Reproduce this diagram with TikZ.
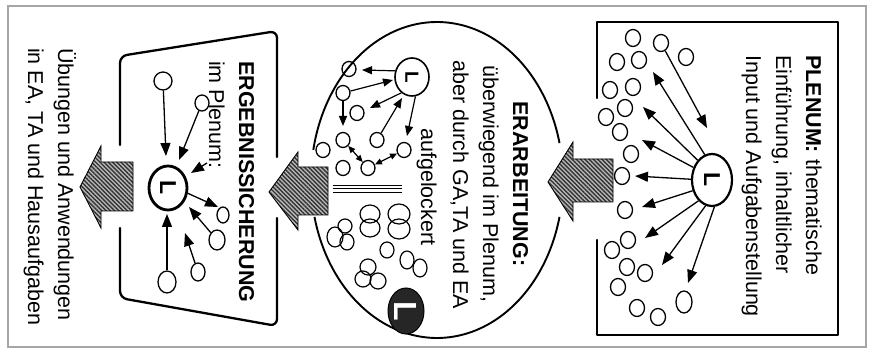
\documentclass[tikz,border=0pt]{standalone}
\usepackage{fontspec}
\setmainfont{Liberation Sans}
\usepackage{graphicx}
\usetikzlibrary{shapes.geometric,arrows.meta,patterns.meta}
\begin{document}
\begin{tikzpicture}[x=1pt,y=-1pt,
  stu/.style={ellipse, draw, line width=1.3pt, inner sep=0pt, minimum width=15pt, minimum height=17pt},
  lnode/.style={ellipse, draw, inner sep=0pt, font=\fontsize{23}{23}\selectfont\bfseries},
  arr/.style={line width=1.3pt, -{Triangle[length=13pt,width=10pt]}},
  marr/.style={line width=1.2pt, -{Triangle[length=10pt,width=8pt]}},
  dbl/.style={line width=1.2pt, {Triangle[length=7pt,width=6pt]}-{Triangle[length=7pt,width=6pt]}},
  hatch/.style={draw=black, line width=0.9pt, line join=miter, preaction={fill=gray!55}, pattern={Lines[angle=-45,distance=3pt,line width=1.4pt]}, pattern color=black!80},
  frame/.style={line width=2.3pt, line join=round, line cap=round},
  txt/.style={rotate=-90, inner sep=0pt, font=\fontsize{21.5}{30}\selectfont},
]
\useasboundingbox (0,0) rectangle (871,355);
\draw[gray!70, line width=1.2pt] (8,6) rectangle (866,347);

% ---------- right section: PLENUM ----------
\draw[frame] (597,98) -- (597,22) -- (838,22) -- (838,335) -- (597,335) -- (597,240);
\node[lnode, line width=2.2pt, minimum width=40pt, minimum height=52pt] (LR) at (712,180) {\rotatebox{-90}{L}};
\foreach \n/\px/\py in {r1/633/38, r2/661/43, r3/686/57, r4/617/62, r5/639/60, r6/633/87,
  r7/610/90, r8/625/108, r9/606/117, r10/620/132, r11/631/154, r12/622/176, r13/625/210,
  r14/628/240, r15/612/250, r16/627/267, r17/645/273, r18/618/287, r19/637/308, r20/658/317}
  \node[stu] (\n) at (\px,\py) {};
\node[stu, minimum width=16pt, minimum height=22pt] (r21) at (684,302) {};
\coordinate (ra1) at (653,72);
\coordinate (ra2) at (643,107);
\coordinate (ra3) at (642,140);
\coordinate (ra4) at (635,176);
\coordinate (ra5) at (642,207);
\coordinate (ra6) at (645,238);
\coordinate (ra7) at (662,265);
\coordinate (ra8) at (688,283);
\coordinate (rt0) at (707,128);
\draw[arr] (LR.106) -- (ra1);
\draw[arr] (LR.126) -- (ra2);
\draw[arr] (LR.146) -- (ra3);
\draw[arr] (LR.178) -- (ra4);
\draw[arr] (LR.209) -- (ra5);
\draw[arr] (LR.237) -- (ra6);
\draw[arr] (LR.256) -- (ra7);
\draw[arr] (LR.275) -- (ra8);
\draw[arr] (r2) -- (rt0);
\node[txt, anchor=base west] (t1) at (806,55) {\textbf{PLENUM:} thematische};
\node[txt, anchor=base west] (t2) at (776,55) {Einführung, inhaltlicher};
\node[txt, anchor=base west] (t3) at (746,55) {Input und Aufgabenstellung};

% ---------- middle section: ERARBEITUNG ----------
\draw[line width=1.9pt] plot[domain=13.5:166.5, samples=90, smooth] ({437+126*cos(\x)},{180+158*sin(\x)});
\draw[line width=1.9pt] plot[domain=191:346.5, samples=90, smooth] ({437+126*cos(\x)},{180+158*sin(\x)});
\node[lnode, line width=1.6pt, minimum width=34pt, minimum height=38pt, font=\fontsize{19}{19}\selectfont\bfseries] (LM) at (412,77) {\rotatebox{-90}{L}};
\foreach \n/\px/\py in {m1/349/69, m2/343/93, m3/357/113, m4/343/140, m5/323/150,
  m6/377/140, m7/404/150, m8/343/168, m9/368/168}
  \node[stu, minimum width=14pt, minimum height=15pt] (\n) at (\px,\py) {};
\coordinate (mt1) at (362,70);
\coordinate (mt2) at (393,80);
\coordinate (mt3) at (370,108);
\coordinate (mt4) at (343,126);
\coordinate (mt6) at (402,98);
\coordinate (mt7) at (407,136);
\draw[marr] (LM.160) -- (mt1);
\draw[marr] (m2) -- (mt2);
\draw[marr] (LM.236) -- (mt3);
\draw[marr] (m2) -- (mt4);
\draw[marr] (m6) -- (mt6);
\draw[marr] (LM.280) -- (mt7);
\draw[dbl] (m4) -- (m9);
\draw[dbl] (m9) -- (m7);
\draw[line width=0.9pt] (333,185) -- (402,185);
\draw[line width=0.9pt] (333,188.5) -- (402,188.5);
\draw[line width=0.9pt] (333,192) -- (402,192);
\foreach \px/\py/\rx/\ry in {335/237/8/10, 345/226/7/7, 347/242/7/8, 370/214/10/9, 370/228/10/9,
  399/214/11/10, 399/229/11/10, 387/250/7/8, 407/260/7/9, 420/268/7/9,
  368/267/8/8, 363/279/8/8, 378/281/8/8}
  \draw[line width=1.2pt] (\px,\py) ellipse [x radius=\rx pt, y radius=\ry pt];
\node[ellipse, draw, fill=black!85, line width=1pt, inner sep=0pt, minimum width=36pt, minimum height=46pt, text=white, font=\fontsize{32}{32}\selectfont\bfseries] (LD) at (406,311) {\rotatebox{-90}{L}};
\node[txt, anchor=base] (t4) at (513,184) {\textbf{ERARBEITUNG:}};
\node[txt, anchor=base] (t5) at (483,184) {überwiegend im Plenum,};
\node[txt, anchor=base] (t6) at (453,185) {aber durch GA,TA und EA};
\node[txt, anchor=base] (t7) at (421,187) {aufgelockert};

% ---------- left section: ERGEBNISSICHERUNG ----------
\draw[frame, rounded corners=7pt] (120,145) -- (120,56) -- (277,31) -- (277,157);
\draw[frame, rounded corners=7pt] (120,228) -- (120,298) -- (277,326) -- (277,218);
\node[lnode, line width=2.8pt, minimum width=38pt, minimum height=44pt] (LL) at (168,188) {\rotatebox{-90}{L}};
\node[stu, minimum width=18pt, minimum height=18pt] (l1) at (163,81) {};
\node[stu, minimum width=14pt, minimum height=16pt] (l2) at (202,103) {};
\node[stu, minimum width=12pt, minimum height=16pt] (l3) at (223,215) {};
\node[stu, minimum width=16pt, minimum height=20pt] (l4) at (217,240) {};
\node[stu, minimum width=14pt, minimum height=18pt] (l5) at (198,272) {};
\node[stu, minimum width=18pt, minimum height=22pt] (l6) at (167,282) {};
\coordinate (lt1) at (166,156);
\coordinate (lt2) at (179,160);
\coordinate (ls7) at (207,163);
\coordinate (lt7) at (191,173);
\coordinate (lt3) at (218,207);
\coordinate (lt4) at (189,207);
\coordinate (lt5) at (185,233);
\coordinate (lt6) at (167,214);
\draw[arr] (l1) -- (lt1);
\draw[arr] (l2) -- (lt2);
\draw[arr] (ls7) -- (lt7);
\draw[arr] (LL.-15) -- (lt3);
\draw[arr] (l4) -- (lt4);
\draw[arr] (l5) -- (lt5);
\draw[arr] (l6) -- (lt6);
\node[txt, anchor=base west] (t8) at (239,61) {\textbf{ERGEBNISSICHERUNG}};
\node[txt, anchor=base west] (t9) at (209,61) {im Plenum:};
\node[txt, anchor=base west] (t10) at (58,48) {Übungen und Anwendungen};
\node[txt, anchor=base west] (t11) at (28,48) {in EA, TA und Hausaufgaben};

% ---------- hatched block arrows ----------
\draw[hatch] (548,182) -- (573,142) -- (573,159) -- (613,159) -- (613,202) -- (573,202) -- (573,221) -- cycle;
\draw[hatch] (269,192) -- (298,152) -- (298,167) -- (328,167) -- (328,215) -- (298,215) -- (298,230) -- cycle;
\draw[hatch] (80,187) -- (101,146) -- (101,162) -- (133,162) -- (133,211) -- (101,211) -- (101,228) -- cycle;
\end{tikzpicture}
\end{document}
